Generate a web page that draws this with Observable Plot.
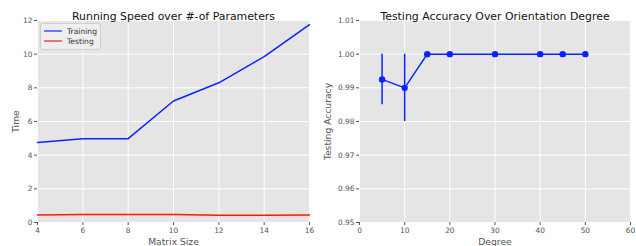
<!DOCTYPE html>
<html><head><meta charset="utf-8">
<script src="https://cdn.jsdelivr.net/npm/d3@7"></script>
<script src="https://cdn.jsdelivr.net/npm/@observablehq/plot@0.6"></script>
<style>
html,body{margin:0;padding:0;background:#fff;}
#wrap{position:relative;width:636px;height:246px;font-family:"DejaVu Sans",sans-serif;}
#p1,#p2{position:absolute;top:0;}
#p1{left:0;} #p2{left:318px;}
#legend{position:absolute;left:40px;top:23px;width:59px;height:25px;background:rgba(238,238,238,0.9);border:1px solid #cfcfcf;border-radius:3px;font-size:7.6px;color:#333;}
.li{position:absolute;left:3px;display:flex;align-items:center;height:9px;}
.li svg{margin-right:5px;}
</style></head>
<body><div id="wrap"><div id="p1"></div><div id="p2"></div>
<div id="legend">
<div class="li" style="top:2.5px"><svg width="18" height="4"><line x1="0" x2="18" y1="2" y2="2" stroke="#3d5bff" stroke-width="1.6"/></svg>Training</div>
<div class="li" style="top:12.5px"><svg width="18" height="4"><line x1="0" x2="18" y1="2" y2="2" stroke="#ee5544" stroke-width="1.6"/></svg>Testing</div>
</div>
</div>
<script>
const matrixSize = [4, 6, 8, 10, 12, 14, 16];
const trainingTime = [4.75, 4.98, 4.98, 7.22, 8.3, 9.85, 11.75];
const testingTime = [0.45, 0.48, 0.47, 0.48, 0.43, 0.43, 0.45];
const sizeTicks = [4, 6, 8, 10, 12, 14, 16];
const timeTicks = [0, 2, 4, 6, 8, 10, 12];

const degrees = [5, 10, 15, 20, 30, 40, 45, 50];
const accuracy = [0.9925, 0.99, 1, 1, 1, 1, 1, 1];
const accLow = [0.985, 0.98, 1, 1, 1, 1, 1, 1];
const accHigh = [1.0, 1.0, 1, 1, 1, 1, 1, 1];
const degreeTicks = [0, 10, 20, 30, 40, 50, 60];
const accTicks = [0.95, 0.96, 0.97, 0.98, 0.99, 1.00, 1.01];

const font = "DejaVu Sans";
const tickColor = "#555";
const tickFont = 7.4;
const labelFont = 9.2;
const titleFont = 10.9;

const speed = matrixSize.map((s, i) => ({s, train: trainingTime[i], test: testingTime[i]}));
const acc = degrees.map((d, i) => ({d, a: accuracy[i], lo: accLow[i], hi: accHigh[i]}));

const common = {
  style: {fontFamily: font, fontSize: tickFont + "px", color: tickColor, background: "transparent"}
};

const p1 = Plot.plot({
  ...common,
  width: 318, height: 246,
  marginLeft: 37, marginRight: 9, marginTop: 20, marginBottom: 24,
  x: {domain: [4, 16]},
  y: {domain: [0, 12]},
  marks: [
    Plot.frame({fill: "#e5e5e5", stroke: null}),
    Plot.gridX(sizeTicks, {stroke: "#fff", strokeOpacity: 1, strokeWidth: 1}),
    Plot.gridY(timeTicks, {stroke: "#fff", strokeOpacity: 1, strokeWidth: 1}),
    Plot.axisX(sizeTicks, {tickSize: 3, tickPadding: 2, stroke: tickColor, fill: tickColor, label: null}),
    Plot.axisX({label: "Matrix Size", labelAnchor: "center", labelArrow: "none", labelOffset: 22, ticks: [], tickSize: 0, fontSize: labelFont, fill: tickColor}),
    Plot.axisY(timeTicks, {tickSize: 3, tickPadding: 2, stroke: tickColor, fill: tickColor, label: null}),
    Plot.axisY({label: "Time", labelAnchor: "center", labelArrow: "none", labelOffset: 25, ticks: [], tickSize: 0, fontSize: labelFont, fill: tickColor}),
    Plot.lineY(speed, {x: "s", y: "train", stroke: "#0a22ff", strokeWidth: 1.5}),
    Plot.lineY(speed, {x: "s", y: "test", stroke: "#ff1a00", strokeWidth: 1.5}),
    Plot.text(["Running Speed over #-of Parameters"], {frameAnchor: "top", dy: -8, fontSize: titleFont, fill: "#111", text: d => d})
  ]
});
document.getElementById("p1").append(p1);

const p2 = Plot.plot({
  ...common,
  width: 318, height: 246,
  marginLeft: 41, marginRight: 6, marginTop: 20, marginBottom: 24,
  x: {domain: [0, 60]},
  y: {domain: [0.95, 1.01]},
  marks: [
    Plot.frame({fill: "#e5e5e5", stroke: null}),
    Plot.gridX(degreeTicks, {stroke: "#fff", strokeOpacity: 1, strokeWidth: 1}),
    Plot.gridY(accTicks, {stroke: "#fff", strokeOpacity: 1, strokeWidth: 1}),
    Plot.axisX(degreeTicks, {tickSize: 3, tickPadding: 2, stroke: tickColor, fill: tickColor, label: null}),
    Plot.axisX({label: "Degree", labelAnchor: "center", labelArrow: "none", labelOffset: 22, ticks: [], tickSize: 0, fontSize: labelFont, fill: tickColor}),
    Plot.axisY(accTicks, {tickSize: 3, tickPadding: 2, stroke: tickColor, fill: tickColor, tickFormat: d3.format(".2f"), label: null}),
    Plot.axisY({label: "Testing Accuracy", labelAnchor: "center", labelArrow: "none", labelOffset: 35, ticks: [], tickSize: 0, fontSize: labelFont, fill: tickColor}),
    Plot.ruleX(acc.filter(d => d.hi > d.lo), {x: "d", y1: "lo", y2: "hi", stroke: "#0a22ff", strokeWidth: 1.5}),
    Plot.lineY(acc, {x: "d", y: "a", stroke: "#0a22ff", strokeWidth: 1.5}),
    Plot.dot(acc, {x: "d", y: "a", r: 3.2, fill: "#0a22ff", stroke: null}),
    Plot.text(["Testing Accuracy Over Orientation Degree"], {frameAnchor: "top", dy: -8, fontSize: titleFont, fill: "#111", text: d => d})
  ]
});
document.getElementById("p2").append(p2);
</script></body></html>
